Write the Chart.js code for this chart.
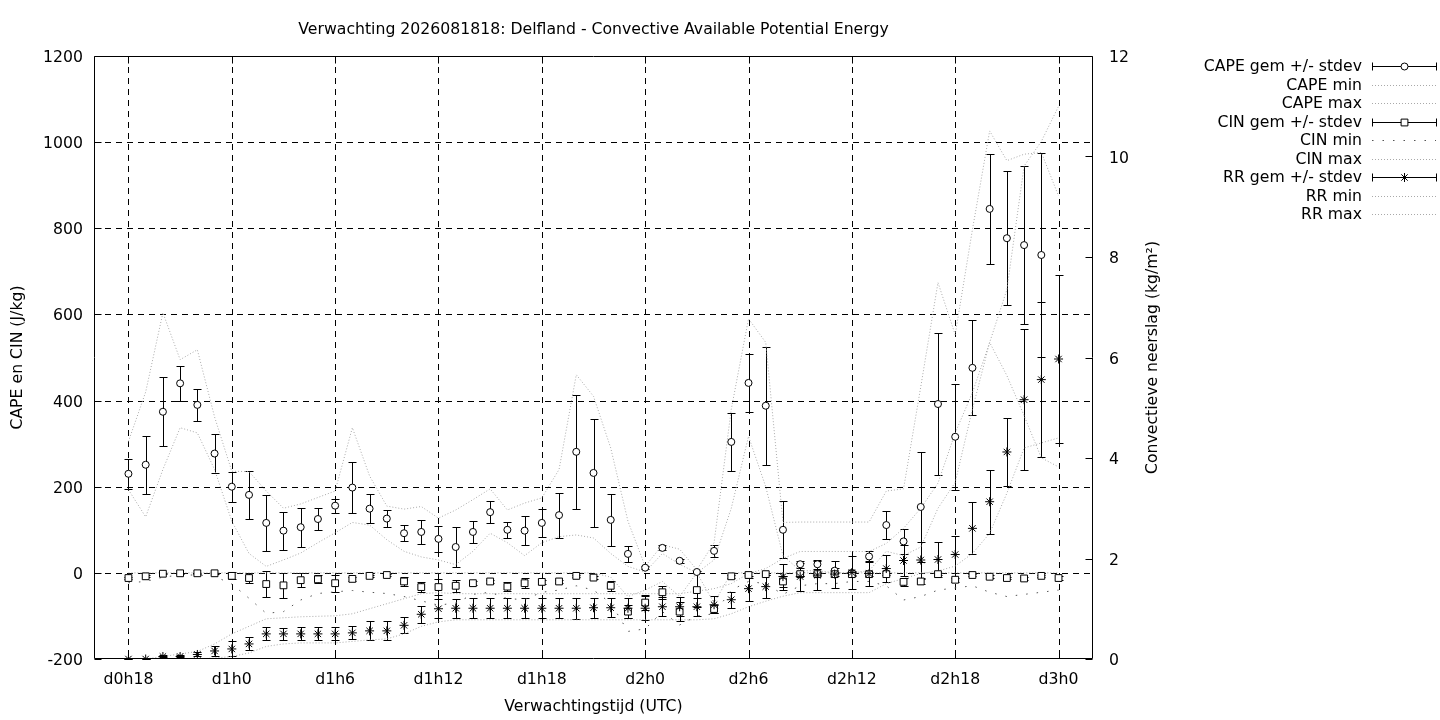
<!DOCTYPE html>
<html>
<head>
<meta charset="utf-8">
<title>Verwachting 2026081818: Delfland - CAPE</title>
<script src="https://cdn.jsdelivr.net/npm/chart.js@4.4.1/dist/chart.umd.min.js"></script>
<style>
	html, body { margin: 0; padding: 0; background: #fff; }
	#wrap { width: 1440px; height: 720px; }
</style>
</head>
<body>
<div id="wrap"><canvas id="cape-chart" width="1440" height="720"></canvas></div>
<script>
// forecast hours since d0h0
var hours = [18, 19, 20, 21, 22, 23, 24, 25, 26, 27, 28, 29, 30, 31, 32, 33, 34, 35, 36, 37,
	38, 39, 40, 41, 42, 43, 44, 45, 46, 47, 48, 49, 50, 51, 52, 53, 54, 55, 56, 57,
	58, 59, 60, 61, 62, 63, 64, 65, 66, 67, 68, 69, 70, 71, 72];

var tickHours = [18, 24, 30, 36, 42, 48, 54, 60, 66, 72];
var tickLabels = ['d0h18', 'd1h0', 'd1h6', 'd1h12', 'd1h18', 'd2h0', 'd2h6', 'd2h12', 'd2h18', 'd3h0'];
var leftTicks = [-200, 0, 200, 400, 600, 800, 1000, 1200];
var rightTicks = [0, 2, 4, 6, 8, 10, 12];

// CAPE (J/kg)
var capeMean = [230, 251, 374, 440, 390, 277, 200, 181, 116, 98, 106, 125, 156, 198, 149, 126, 92, 95, 79, 60,
	95, 141, 100, 98, 116, 134, 281, 232, 123, 44, 12, 58, 28, 2, 51, 304, 441, 388, 100, 20,
	20, 5, 0, 38, 111, 73, 153, 392, 316, 476, 845, 777, 761, 738, null];
var capeSd = [35, 67, 80, 40, 38, 46, 35, 56, 65, 44, 45, 25, 16, 59, 33, 20, 18, 28, 30, 46,
	26, 25, 19, 34, 32, 52, 133, 125, 60, 19, 4, 6, 5, 2, 14, 68, 68, 137, 66, 8,
	10, 6, 5, 12, 32, 29, 128, 164, 123, 110, 128, 156, 184, 236, null];
var capeMin = [193, 130, 240, 337, 325, 240, 120, 45, 15, 30, 46, 70, 93, 117, 111, 77, 50, 37, 30, 19,
	50, 92, 70, 40, 70, 84, 88, 81, 45, 15, 2, 45, 20, 0, 30, 150, 317, 200, 40, 5,
	5, 0, 0, 5, 50, 40, 60, 150, 210, 380, 535, 458, 365, 267, 246];
var capeMax = [305, 420, 604, 495, 518, 362, 236, 235, 190, 150, 160, 175, 190, 337, 225, 155, 148, 154, 127, 146,
	170, 195, 146, 162, 174, 240, 460, 410, 290, 120, 15, 65, 55, 7, 70, 380, 590, 535, 117, 118,
	118, 118, 118, 118, 190, 195, 432, 674, 553, 797, 1026, 957, 972, 976, 875];

// CIN (J/kg)
var cinMean = [-12, -8, -2, -1, -1, -1, -7, -12, -26, -29, -17, -15, -24, -14, -7, -5, -20, -33, -33, -30,
	-24, -20, -32, -24, -21, -20, -7, -11, -30, -90, -69, -45, -90, -40, -84, -8, -5, -3, -20, -3,
	-3, -3, -3, -3, -3, -21, -20, -3, -16, -5, -9, -12, -13, -7, -12];
var cinSd = [3, 2, 1, 1, 1, 1, 8, 11, 31, 29, 16, 9, 20, 5, 3, 2, 10, 12, 19, 14,
	5, 4, 10, 11, 4, 4, 3, 4, 12, 15, 17, 15, 22, 40, 9, 3, 7, 2, 13, 5,
	5, 4, 4, 4, 3, 9, 5, 3, 5, 3, 3, 3, 3, 3, 5];
var cinMin = [-23, -20, -10, -5, -5, -8, -26, -59, -94, -90, -63, -48, -44, -41, -45, -48, -55, -65, -75, -70,
	-50, -45, -60, -62, -45, -40, -30, -40, -70, -136, -130, -90, -121, -100, -95, -40, -20, -25, -50, -30,
	-25, -25, -20, -20, -30, -63, -55, -40, -35, -30, -45, -55, -50, -45, -40];
var cinMax = [0, 0, 0, 0, 0, 0, 0, 0, 0, 0, 0, 0, 0, 0, 0, 0, 0, 0, 0, 0,
	0, 0, 0, 0, 0, 0, 0, 0, -10, -55, -40, -20, -55, 0, -70, 0, 0, 0, 0, 0,
	0, 0, 0, 0, 0, 0, 0, 0, 0, 0, 0, 0, 0, 0, 0];

// convective precipitation (kg/m2)
var rrMean = [0, 0, 0.05, 0.05, 0.09, 0.16, 0.2, 0.3, 0.5, 0.5, 0.5, 0.5, 0.5, 0.52, 0.56, 0.56, 0.67, 0.89, 1.0, 1.01,
	1.01, 1.01, 1.01, 1.01, 1.01, 1.01, 1.01, 1.02, 1.02, 1.01, 1.01, 1.04, 1.04, 1.04, 1.08, 1.18, 1.40, 1.44, 1.64, 1.64,
	1.67, 1.69, 1.72, 1.70, 1.80, 1.96, 1.97, 1.98, 2.08, 2.60, 3.13, 4.12, 5.16, 5.56, 5.97];
var rrSd = [0, 0, 0.02, 0.02, 0.04, 0.1, 0.15, 0.13, 0.13, 0.12, 0.13, 0.13, 0.13, 0.13, 0.19, 0.19, 0.16, 0.17, 0.19, 0.19,
	0.2, 0.2, 0.2, 0.2, 0.2, 0.2, 0.21, 0.2, 0.19, 0.2, 0.24, 0.19, 0.19, 0.18, 0.17, 0.16, 0.25, 0.23, 0.26, 0.28,
	0.29, 0.27, 0.32, 0.25, 0.27, 0.3, 0.35, 0.35, 0.36, 0.52, 0.64, 0.67, 1.4, 1.55, 1.67];
var rrMin = [0, 0, 0, 0, 0, 0.02, 0.05, 0.12, 0.25, 0.3, 0.32, 0.32, 0.32, 0.35, 0.38, 0.4, 0.5, 0.65, 0.74, 0.78,
	0.78, 0.78, 0.78, 0.78, 0.78, 0.78, 0.78, 0.78, 0.78, 0.78, 0.78, 0.78, 0.78, 0.78, 0.8, 0.9, 1.04, 1.15, 1.25, 1.32,
	1.32, 1.32, 1.32, 1.32, 1.5, 1.6, 1.7, 1.75, 1.85, 2.1, 2.5, 3.3, 4.2, 4.3, 4.4];
var rrMax = [0, 0, 0.05, 0.1, 0.15, 0.3, 0.5, 0.65, 0.8, 0.82, 0.84, 0.85, 0.86, 0.9, 1.0, 1.1, 1.2, 1.3, 1.32, 1.3,
	1.3, 1.3, 1.3, 1.3, 1.3, 1.3, 1.3, 1.3, 1.3, 1.3, 1.3, 1.3, 1.3, 1.35, 1.4, 1.5, 1.7, 1.8, 2.0, 2.14,
	2.14, 2.14, 2.14, 2.14, 2.3, 2.6, 3.0, 3.5, 4.5, 5.3, 6.3, 7.35, 9.81, 10.3, 11.0];

var chartTitle = 'Verwachting 2026081818: Delfland - Convective Available Potential Energy';
var xTitle = 'Verwachtingstijd (UTC)';
var yTitle = 'CAPE en CIN (J/kg)';
var y1Title = 'Convectieve neerslag (kg/m\u00B2)';

var FONT_SIZE = 15.7;
var FONT = FONT_SIZE + 'px "DejaVu Sans"';
var LIGHT = '#a9a9a9';

function xy(arr) {
	return hours.map(function (h, i) { return { x: h, y: arr[i] }; });
}

function markSet(label, arr, axis, style, radius, order) {
	return {
		label: label, data: xy(arr), yAxisID: axis, showLine: false,
		pointStyle: style, pointRadius: radius, pointBorderWidth: 1,
		pointBackgroundColor: '#fff', pointBorderColor: '#000', borderColor: '#000',
		order: order, errorBars: true
	};
}

function lineSet(label, arr, axis, color, dash) {
	return {
		label: label, data: xy(arr), yAxisID: axis, showLine: true,
		borderColor: color, borderWidth: 1, borderDash: dash, pointRadius: 0,
		fill: false, tension: 0, order: 10
	};
}

function drawErrorBars(ctx, xs, ys, mean, sd) {
	ctx.beginPath();
	for (var i = 0; i < hours.length; i++) {
		if (mean[i] === null || sd[i] === null) continue;
		var px = Math.round(xs.getPixelForValue(hours[i])) + 0.5;
		var top = Math.round(ys.getPixelForValue(mean[i] + sd[i])) + 0.5;
		var bot = Math.round(ys.getPixelForValue(mean[i] - sd[i])) + 0.5;
		ctx.moveTo(px, top); ctx.lineTo(px, bot);
		ctx.moveTo(px - 4, top); ctx.lineTo(px + 4, top);
		ctx.moveTo(px - 4, bot); ctx.lineTo(px + 4, bot);
	}
	ctx.stroke();
}

// gnuplot look: dashed grid, inward ticks, frame, titles and key
var gnuplotLook = {
	id: 'gnuplotLook',
	beforeDatasetsDraw: function (chart) {
		var ctx = chart.ctx, a = chart.chartArea;
		var x = chart.scales.x, y = chart.scales.y, y1 = chart.scales.y1;
		ctx.save();
		ctx.strokeStyle = '#000';
		ctx.lineWidth = 1;
		ctx.setLineDash([6, 5]);
		ctx.beginPath();
		tickHours.forEach(function (h) {
			var px = Math.round(x.getPixelForValue(h)) + 0.5;
			ctx.moveTo(px, a.top); ctx.lineTo(px, a.bottom);
		});
		leftTicks.forEach(function (v) {
			if (v <= y.min || v >= y.max) return;
			var py = Math.round(y.getPixelForValue(v)) + 0.5;
			ctx.moveTo(a.left, py); ctx.lineTo(a.right, py);
		});
		ctx.stroke();
		ctx.setLineDash([]);

		drawErrorBars(ctx, x, y, capeMean, capeSd);
		drawErrorBars(ctx, x, y, cinMean, cinSd);
		drawErrorBars(ctx, x, y1, rrMean, rrSd);
		ctx.restore();
	},
	afterDraw: function (chart) {
		var ctx = chart.ctx, a = chart.chartArea;
		var x = chart.scales.x, y = chart.scales.y, y1 = chart.scales.y1;
		var L = Math.round(a.left) + 0.5, R = Math.round(a.right) - 0.5;
		var T = Math.round(a.top) + 0.5, B = Math.round(a.bottom) - 0.5;
		ctx.save();
		ctx.strokeStyle = '#000';
		ctx.lineWidth = 1;
		ctx.setLineDash([]);
		ctx.beginPath();
		ctx.rect(L, T, R - L, B - T);
		tickHours.forEach(function (h) {
			var px = Math.round(x.getPixelForValue(h)) + 0.5;
			ctx.moveTo(px, B); ctx.lineTo(px, B - 7);
			ctx.moveTo(px, T); ctx.lineTo(px, T + 7);
		});
		leftTicks.forEach(function (v) {
			var py = Math.round(y.getPixelForValue(v)) + 0.5;
			ctx.moveTo(L, py); ctx.lineTo(L + 7, py);
		});
		rightTicks.forEach(function (v) {
			var py = Math.round(y1.getPixelForValue(v)) + 0.5;
			ctx.moveTo(R, py); ctx.lineTo(R - 7, py);
		});
		ctx.stroke();

		// titles
		var cx = (a.left + a.right) / 2;
		ctx.fillStyle = '#000';
		ctx.font = FONT;
		ctx.textAlign = 'center';
		ctx.textBaseline = 'middle';
		ctx.fillText(chartTitle, cx, 30);
		ctx.fillText(xTitle, cx, 707);
		ctx.save();
		ctx.translate(18, (a.top + a.bottom) / 2);
		ctx.rotate(-Math.PI / 2);
		ctx.fillText(yTitle, 0, 0);
		ctx.restore();
		ctx.save();
		ctx.translate(1153, (a.top + a.bottom) / 2);
		ctx.rotate(-Math.PI / 2);
		ctx.fillText(y1Title, 0, 0);
		ctx.restore();

		// key
		var x0 = 1372, x1 = 1436;
		chart.data.datasets.forEach(function (ds, i) {
			var ky = Math.round(66 + i * 18.5) + 0.5;
			ctx.fillStyle = '#000';
			ctx.textAlign = 'right';
			ctx.fillText(ds.label, 1362, ky);
			ctx.beginPath();
			if (ds.errorBars) {
				ctx.strokeStyle = '#000';
				ctx.setLineDash([]);
				ctx.moveTo(x0 + 0.5, ky); ctx.lineTo(x1 + 0.5, ky);
				ctx.moveTo(x0 + 0.5, ky - 4); ctx.lineTo(x0 + 0.5, ky + 4);
				ctx.moveTo(x1 + 0.5, ky - 4); ctx.lineTo(x1 + 0.5, ky + 4);
				ctx.stroke();
				ctx.fillStyle = '#fff';
				ctx.strokeStyle = '#000';
				Chart.helpers.drawPoint(ctx, {
					pointStyle: ds.pointStyle, radius: ds.pointRadius, rotation: 0, borderWidth: 1
				}, (x0 + x1) / 2 + 0.5, ky);
			} else {
				ctx.strokeStyle = ds.borderColor;
				ctx.setLineDash(ds.borderDash);
				ctx.moveTo(x0, ky); ctx.lineTo(x1, ky);
				ctx.stroke();
			}
		});
		ctx.restore();
	}
};

Chart.defaults.font.family = 'DejaVu Sans';
Chart.defaults.font.size = FONT_SIZE;
Chart.defaults.color = '#000';

var datasets = [
	markSet('CAPE gem +/- stdev', capeMean, 'y', 'circle', 3.5, 3),
	lineSet('CAPE min', capeMin, 'y', LIGHT, [1, 2]),
	lineSet('CAPE max', capeMax, 'y', LIGHT, [1, 2]),
	markSet('CIN gem +/- stdev', cinMean, 'y', 'rect', 4.8, 2),
	lineSet('CIN min', cinMin, 'y', '#555', [1.5, 9]),
	lineSet('CIN max', cinMax, 'y', LIGHT, [1, 2]),
	markSet('RR gem +/- stdev', rrMean, 'y1', 'star', 4.5, 1),
	lineSet('RR min', rrMin, 'y1', LIGHT, [1, 2]),
	lineSet('RR max', rrMax, 'y1', LIGHT, [1, 2])
];

function plainTick(value) { return String(value); }

var capeChart = new Chart(document.getElementById('cape-chart'), {
	type: 'line',
	data: { datasets: datasets },
	options: {
		responsive: false,
		animation: false,
		devicePixelRatio: 1,
		events: [],
		layout: { padding: { left: 0, right: 0, top: 56, bottom: 0 } },
		plugins: {
			legend: { display: false },
			tooltip: { enabled: false },
			title: { display: false }
		},
		scales: {
			x: {
				type: 'linear', min: 16, max: 74,
				grid: { display: false, drawTicks: false },
				border: { display: false },
				afterBuildTicks: function (scale) {
					scale.ticks = tickHours.map(function (v) { return { value: v }; });
				},
				afterFit: function (scale) { scale.height = 61; },
				ticks: {
					padding: 12, maxRotation: 0, autoSkip: false,
					callback: function (value, index) { return tickLabels[index]; }
				}
			},
			y: {
				type: 'linear', position: 'left', min: -200, max: 1200,
				grid: { display: false, drawTicks: false },
				border: { display: false },
				afterBuildTicks: function (scale) {
					scale.ticks = leftTicks.map(function (v) { return { value: v }; });
				},
				afterFit: function (scale) { scale.width = 94; },
				ticks: { padding: 11, labelOffset: 2, callback: plainTick }
			},
			y1: {
				type: 'linear', position: 'right', min: 0, max: 12,
				grid: { display: false, drawTicks: false },
				border: { display: false },
				afterBuildTicks: function (scale) {
					scale.ticks = rightTicks.map(function (v) { return { value: v }; });
				},
				afterFit: function (scale) { scale.width = 347; },
				ticks: { padding: 16, labelOffset: 2, callback: plainTick }
			}
		}
	},
	plugins: [gnuplotLook]
});
</script>
</body>
</html>
